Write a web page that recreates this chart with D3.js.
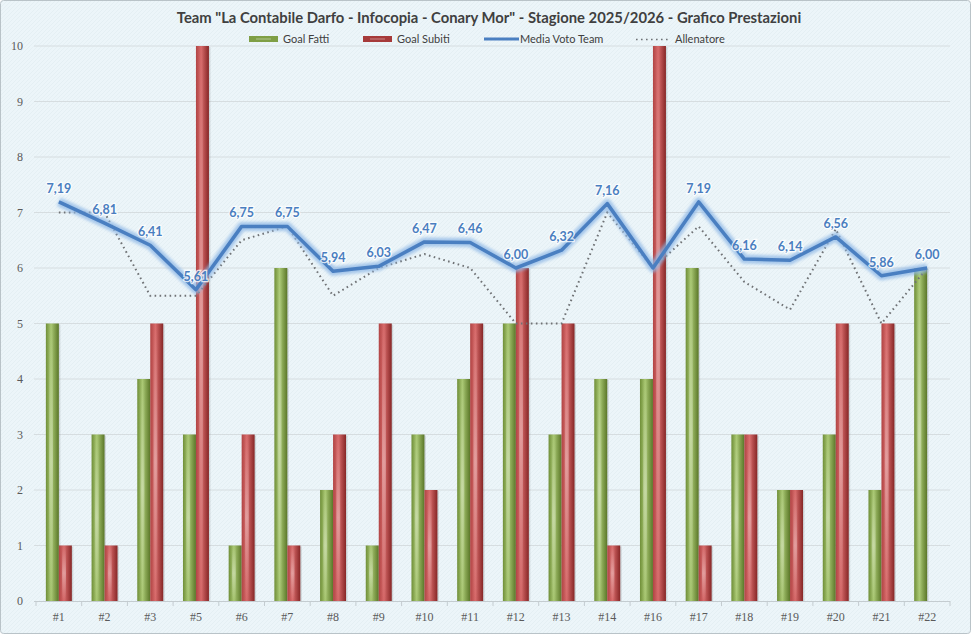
<!DOCTYPE html>
<html>
<head>
<meta charset="utf-8">
<script src="https://cdn.jsdelivr.net/npm/d3@7"></script>
<style>
  html, body { margin: 0; padding: 0; background: #fff; }
  svg { display: block; }
</style>
</head>
<body>
<div class="chart"></div>
<script>
// dati della stagione
var partite = ["#1","#2","#3","#5","#6","#7","#8","#9","#10","#11","#12","#13","#14","#16","#17","#18","#19","#20","#21","#22"];
var goalFatti = [5,3,4,3,1,6,2,1,3,4,5,3,4,4,6,3,2,3,2,6];
var goalSubiti = [1,1,5,10,3,1,3,5,2,5,6,5,1,10,1,3,2,5,5,0];
var mediaVoto = [7.19,6.81,6.41,5.61,6.75,6.75,5.94,6.03,6.47,6.46,6.00,6.32,7.16,6.00,7.19,6.16,6.14,6.56,5.86,6.00];
var allenatore = [7,7,5.5,5.5,6.5,6.75,5.5,6,6.25,6,5,5,7,6,6.75,5.75,5.25,6.7,5,6];
var yTicks = [0,1,2,3,4,5,6,7,8,9,10];
var senzaEtichetta = ["#16"];

var width = 971, height = 634;
var pLeft = 36, pRight = 950, pTop = 46, pBottom = 601;

var svg = d3.select('.chart')
    .append("svg")
    .attr("width", width)
    .attr("height", height);

var defs = svg.append("defs");

// texture di sfondo
var pat = defs.append("pattern")
    .attr("id", "tex")
    .attr("width", 4).attr("height", 4)
    .attr("patternUnits", "userSpaceOnUse");
pat.append("rect").attr("width", 4).attr("height", 4).attr("fill", "#ecf5f9");
pat.append("path").attr("d", "M0,4 L4,0").attr("stroke", "#e1ecf1").attr("stroke-width", 0.7);

function gradiente(id, scuro, chiaro, medio) {
    var g = defs.append("linearGradient").attr("id", id)
        .attr("x1", "0%").attr("x2", "100%").attr("y1", "0%").attr("y2", "0%");
    g.append("stop").attr("offset", "0%").attr("stop-color", medio);
    g.append("stop").attr("offset", "40%").attr("stop-color", chiaro);
    g.append("stop").attr("offset", "100%").attr("stop-color", scuro);
}
gradiente("gVerde", "#5a7628", "#a9c872", "#6f8e38");
gradiente("gRosso", "#862626", "#d86a6a", "#b04444");

var glint = defs.append("linearGradient").attr("id", "glint")
    .attr("x1", "0%").attr("x2", "0%").attr("y1", "0%").attr("y2", "100%");
glint.append("stop").attr("offset", "0%").attr("stop-color", "#fff").attr("stop-opacity", 0);
glint.append("stop").attr("offset", "50%").attr("stop-color", "#fff").attr("stop-opacity", 0.35);
glint.append("stop").attr("offset", "100%").attr("stop-color", "#fff").attr("stop-opacity", 0);

var blur = defs.append("filter").attr("id", "glow").attr("x", "-10%").attr("y", "-30%").attr("width", "120%").attr("height", "160%");
blur.append("feGaussianBlur").attr("stdDeviation", 1.6);

svg.append("rect")
    .attr("x", 0.5).attr("y", 0.5)
    .attr("width", width - 1).attr("height", height - 1)
    .attr("rx", 3)
    .attr("fill", "url(#tex)")
    .attr("stroke", "#b9c3c8");

var x = d3.scaleBand()
    .domain(partite)
    .range([pLeft, pRight]);

var xs = d3.scaleBand()
    .domain(["f", "s"])
    .range([0, x.bandwidth()])
    .paddingOuter(0.76);

var y = d3.scaleLinear()
    .domain([0, 10])
    .range([pBottom, pTop]);

// griglia
svg.append("g")
    .selectAll("line")
    .data(yTicks.slice(1))
    .enter()
    .append("line")
    .attr("x1", pLeft - 2).attr("x2", pRight)
    .attr("y1", d => y(d)).attr("y2", d => y(d))
    .attr("stroke", "#d6dde0")
    .attr("stroke-width", 1);

// asse y
svg.append("g")
    .selectAll("text")
    .data(yTicks)
    .enter()
    .append("text")
    .attr("x", 23)
    .attr("y", d => y(d) + 4)
    .attr("text-anchor", "end")
    .attr("font-family", "Liberation Serif")
    .attr("font-size", 12)
    .attr("fill", "#5a5a5a")
    .text(d => d);

// barre
var gruppi = svg.append("g")
    .selectAll("g")
    .data(partite)
    .enter()
    .append("g")
    .attr("transform", d => "translate(" + x(d) + ",0)");

function barre(key, valori, fill) {
    gruppi.append("rect")
        .attr("x", (d, i) => xs(key) + 1.5)
        .attr("y", (d, i) => y(valori[i]) + 1)
        .attr("width", xs.bandwidth())
        .attr("height", (d, i) => Math.max(0, y(0) - y(valori[i]) - 1))
        .attr("fill", "#000")
        .attr("opacity", 0.12);
    gruppi.append("rect")
        .attr("x", xs(key))
        .attr("y", (d, i) => y(valori[i]))
        .attr("width", xs.bandwidth())
        .attr("height", (d, i) => y(0) - y(valori[i]))
        .attr("fill", fill);
    gruppi.append("rect")
        .attr("x", xs(key) + xs.bandwidth() * 0.25)
        .attr("y", (d, i) => y(valori[i]))
        .attr("width", xs.bandwidth() * 0.3)
        .attr("height", (d, i) => y(0) - y(valori[i]))
        .attr("fill", "url(#glint)");
}
barre("f", goalFatti, "url(#gVerde)");
barre("s", goalSubiti, "url(#gRosso)");

// asse x
var xAxis = svg.append("g");
xAxis.append("line")
    .attr("x1", pLeft - 2).attr("x2", pRight)
    .attr("y1", pBottom + 0.5).attr("y2", pBottom + 0.5)
    .attr("stroke", "#c4ccd0");
xAxis.selectAll("line.tick")
    .data(partite.concat(["fine"]))
    .enter()
    .append("line")
    .attr("class", "tick")
    .attr("x1", (d, i) => i < partite.length ? x(d) : pRight)
    .attr("x2", (d, i) => i < partite.length ? x(d) : pRight)
    .attr("y1", pBottom).attr("y2", pBottom + 5)
    .attr("stroke", "#c4ccd0");
xAxis.selectAll("text")
    .data(partite)
    .enter()
    .append("text")
    .attr("x", d => x(d) + x.bandwidth() / 2)
    .attr("y", 621)
    .attr("text-anchor", "middle")
    .attr("font-family", "Liberation Serif")
    .attr("font-size", 12)
    .attr("fill", "#5a5a5a")
    .text(d => d);

var cx = d => x(d) + x.bandwidth() / 2;

// allenatore
var lineaAll = d3.line()
    .x((d, i) => cx(partite[i]))
    .y(d => y(d));
svg.append("path")
    .attr("d", lineaAll(allenatore))
    .attr("fill", "none")
    .attr("stroke", "#6f7275")
    .attr("stroke-width", 2)
    .attr("stroke-dasharray", "1.6,3.4");

// media voto team
var lineaMedia = d3.line()
    .x((d, i) => cx(partite[i]))
    .y(d => y(d));
svg.append("path")
    .attr("d", lineaMedia(mediaVoto))
    .attr("fill", "none")
    .attr("stroke", "#8fb8e6")
    .attr("stroke-width", 9)
    .attr("stroke-linejoin", "round")
    .attr("opacity", 0.75)
    .attr("filter", "url(#glow)");
svg.append("path")
    .attr("d", lineaMedia(mediaVoto))
    .attr("fill", "none")
    .attr("stroke", "#4a7fc1")
    .attr("stroke-width", 3.5)
    .attr("stroke-linejoin", "round");

// etichette
var etichette = mediaVoto
    .map((v, i) => ({ v: v, p: partite[i] }))
    .filter(d => senzaEtichetta.indexOf(d.p) < 0);
svg.append("g")
    .selectAll("text")
    .data(etichette)
    .enter()
    .append("text")
    .attr("x", d => cx(d.p))
    .attr("y", d => y(d.v) - 9)
    .attr("text-anchor", "middle")
    .attr("font-family", "Lato")
    .attr("font-weight", "bold")
    .attr("font-size", 12.5)
    .attr("fill", "#4a7ec0")
    .attr("stroke", "#ffffff")
    .attr("stroke-width", 2.5)
    .attr("stroke-opacity", 0.8)
    .attr("paint-order", "stroke")
    .text(d => d.v.toFixed(2).replace(".", ","));

// titolo
svg.append("text")
    .attr("x", 489)
    .attr("y", 23)
    .attr("text-anchor", "middle")
    .attr("font-family", "Lato")
    .attr("font-weight", "bold")
    .attr("font-size", 14.8)
    .attr("fill", "#404040")
    .text('Team "La Contabile Darfo - Infocopia - Conary Mor" - Stagione 2025/2026 - Grafico Prestazioni');

// legenda
var legenda = svg.append("g").attr("font-family", "Lato").attr("font-size", 11).attr("fill", "#404040");
var voci = [
    { nome: "Goal Fatti", tipo: "f", x: 249 },
    { nome: "Goal Subiti", tipo: "s", x: 363 },
    { nome: "Media Voto Team", tipo: "m", x: 484 },
    { nome: "Allenatore", tipo: "a", x: 636 }
];
voci.forEach(function (v) {
    if (v.tipo === "f" || v.tipo === "s") {
        legenda.append("rect")
            .attr("x", v.x).attr("y", 36)
            .attr("width", 29).attr("height", 6)
            .attr("fill", v.tipo === "f" ? "#7f9f45" : "#a63a3a");
        legenda.append("rect")
            .attr("x", v.x + 7).attr("y", 38.5)
            .attr("width", 15).attr("height", 1)
            .attr("fill", "#fff").attr("opacity", 0.4);
        legenda.append("text").attr("x", v.x + 34).attr("y", 43).text(v.nome);
    } else if (v.tipo === "m") {
        legenda.append("line")
            .attr("x1", v.x).attr("x2", v.x + 35)
            .attr("y1", 39).attr("y2", 39)
            .attr("stroke", "#4a7fc1").attr("stroke-width", 3);
        legenda.append("text").attr("x", v.x + 36).attr("y", 43).text(v.nome);
    } else {
        legenda.append("line")
            .attr("x1", v.x).attr("x2", v.x + 35)
            .attr("y1", 39.5).attr("y2", 39.5)
            .attr("stroke", "#6f7275").attr("stroke-width", 1.6)
            .attr("stroke-dasharray", "1.6,3.4");
        legenda.append("text").attr("x", v.x + 39).attr("y", 43).text(v.nome);
    }
});
</script>
</body>
</html>
